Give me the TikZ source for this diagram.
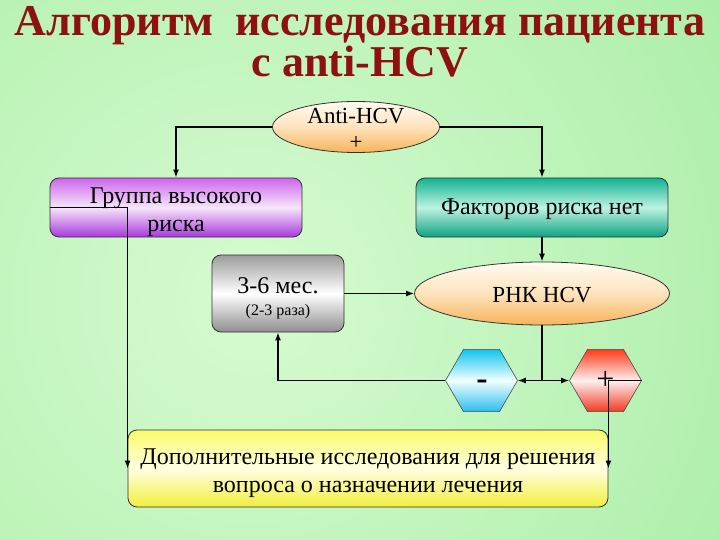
\documentclass[tikz,border=0pt]{standalone}
\usepackage{fontspec}
\setmainfont{Liberation Serif}
\newfontfamily\titlefont{Liberation Serif}
\usetikzlibrary{shapes.geometric,arrows.meta}
\definecolor{bgin}{HTML}{D6FBD0}
\definecolor{bgout}{HTML}{8CE48C}
\definecolor{titlered}{HTML}{8E1010}
\definecolor{vtop}{HTML}{CC66EE}
\definecolor{vmid}{HTML}{F6E6FA}
\definecolor{vbot}{HTML}{A838DC}
\definecolor{ttop}{HTML}{12B292}
\definecolor{tmid}{HTML}{BDF2E2}
\definecolor{tbot}{HTML}{0FA382}
\definecolor{otop}{HTML}{FFFBF2}
\definecolor{omid}{HTML}{FDE3BC}
\definecolor{obot}{HTML}{F7B45A}
\definecolor{gtop}{HTML}{9C9C9C}
\definecolor{gbot}{HTML}{8E8E8E}
\definecolor{ctop}{HTML}{10C4F0}
\definecolor{cbot}{HTML}{28BEEE}
\definecolor{rtop}{HTML}{FF3A18}
\definecolor{rbot}{HTML}{F03A20}
\definecolor{ytop}{HTML}{FAFA6A}
\definecolor{ymid}{HTML}{FFFFE2}
\definecolor{ybot}{HTML}{F2EE3C}
\tikzset{
  conn/.style={line width=1.3pt,-{Latex[length=8pt,width=6pt]}},
  plainconn/.style={line width=1.3pt},
  box/.style={draw=black!80,line width=0.8pt,rounded corners=9pt,inner sep=0pt},
  boxtext/.style={inner sep=0pt,align=center,font=\fontsize{24}{28}\selectfont},
  oval/.style={ellipse,draw=black!80,line width=0.8pt,inner sep=0pt,
     top color=otop,bottom color=obot,middle color=omid},
  ovaltext/.style={inner sep=0pt,align=center,font=\fontsize{23}{26}\selectfont},
  hexa/.style={regular polygon,regular polygon sides=6,minimum size=72pt,inner sep=0pt,draw=black!70,line width=0.6pt},
  titletext/.style={align=center,font=\titlefont\bfseries\fontsize{44}{37}\selectfont},
}
\begin{document}
\begin{tikzpicture}[x=1pt,y=-1pt]
\useasboundingbox (0,0) rectangle (720,540);
\begin{scope}
\clip (0,0) rectangle (720,540);
\shade[inner color=bgin,outer color=bgout] (-750,-700) rectangle (1250,1300);
\end{scope}
% title
\node[titletext,text=titlered] (title) at (360,42) {Алгоритм\ \ исследования пациента\\с anti-HCV};
% shapes
\node[oval,minimum width=167pt,minimum height=51pt] (anti) at (356,127) {};
\node[box,minimum width=252pt,minimum height=59pt,top color=vtop,bottom color=vbot,middle color=vmid] (high) at (176,207.5) {};
\node[box,minimum width=252pt,minimum height=59pt,top color=ttop,bottom color=tbot,middle color=tmid] (nofac) at (542,207.5) {};
\node[oval,minimum width=255pt,minimum height=63pt] (rna) at (542,293.5) {};
\node[box,minimum width=132pt,minimum height=77pt,top color=gtop,bottom color=gbot,middle color=white] (mon) at (278,293.5) {};
\node[hexa,top color=ctop,bottom color=cbot,middle color=cyan!5!white] (minus) at (481.5,380.5) {};
\node[hexa,top color=rtop,bottom color=rbot,middle color=red!6!white] (plus) at (605.5,380.5) {};
\node[box,minimum width=480pt,minimum height=77pt,top color=ytop,bottom color=ybot,middle color=ymid] (extra) at (368,468.5) {};
% texts
\node[ovaltext] (antitext) at ([yshift=-2pt]anti.center) {Anti-HCV\\+};
\node[boxtext] (hightext) at ([yshift=-5pt]high.center) {Группа высокого\\риска};
\node[boxtext] (nofactext) at ([yshift=-2pt]nofac.center) {Факторов риска нет};
\node[ovaltext] (rnatext) at ([yshift=-2pt]rna.center) {РНК HCV};
\node[boxtext] (montext) at ([yshift=-5pt]mon.center) {3-6 мес.\\[-6pt]{\fontsize{16}{18}\selectfont(2-3 раза)}};
\node[boxtext] (extratext) at ([yshift=-5pt]extra.center) {Дополнительные исследования для решения\\вопроса о назначении лечения};
\node[font=\fontsize{34}{34}\selectfont\bfseries] (minussign) at (482,385) {-};
% connectors
\draw[conn] (anti.west) -| (high.north);
\draw[conn] (anti.east) -| (nofac.north);
\draw[conn] (nofac.south) -- (rna.north);
\draw[conn] (mon.east) -- (rna.west);
\coordinate (j) at (rna.south |- minus.east);
\draw[plainconn] (rna.south) -- (j);
\draw[conn] (j) -- (minus.east);
\draw[conn] (j) -- (plus.west);
\draw[conn] (minus.west) -| (mon.south);
\draw[conn] (high.west) -| (extra.west);
\draw[conn] (plus.east) -| (extra.east);
\node[font=\fontsize{32}{32}\selectfont] (plussign) at (plus) {+};
\end{tikzpicture}
\end{document}
